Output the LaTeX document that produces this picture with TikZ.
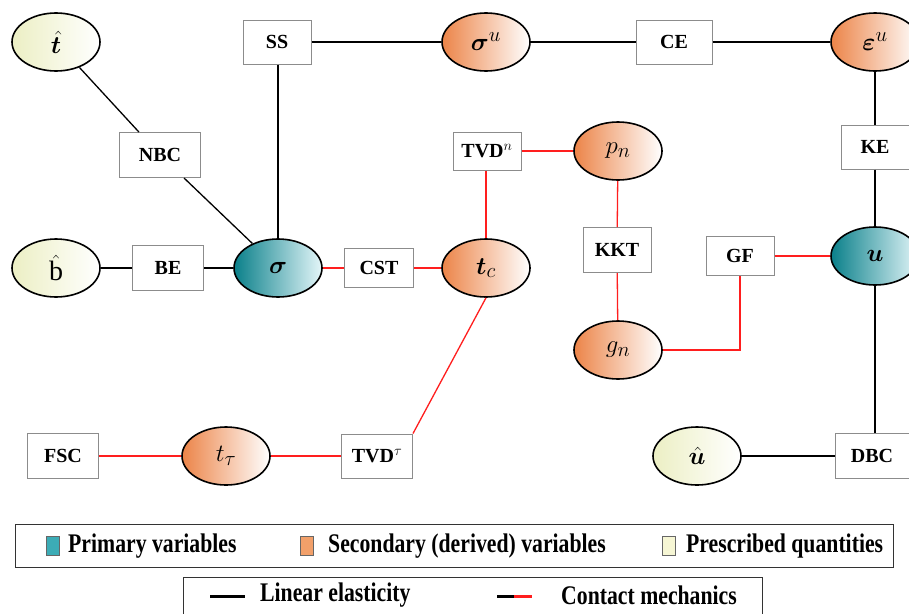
\documentclass[tikz,border=0pt]{standalone}
\usepackage{amsmath,bm}
\usepackage{fontspec}
\setmainfont{Liberation Serif}
\newfontfamily\tnr{Liberation Serif}
\usetikzlibrary{shapes.geometric}
\definecolor{orgL}{RGB}{236,132,72}
\definecolor{tealL}{RGB}{10,128,138}
\definecolor{tealR}{RGB}{228,246,249}
\definecolor{yelL}{RGB}{236,239,196}
\definecolor{legTeal}{RGB}{60,172,182}
\definecolor{legOrg}{RGB}{242,160,106}
\definecolor{legYel}{RGB}{246,246,212}
\definecolor{boxgray}{RGB}{140,140,140}
\definecolor{cmred}{RGB}{255,30,30}
\newcommand{\legstretch}[1]{\scalebox{0.97}[1.2]{#1}}
\tikzset{
  var/.style={ellipse, draw=black, line width=1.6pt, minimum width=88pt, minimum height=58pt, inner sep=0pt, font=\fontsize{28}{30}\selectfont},
  prim/.style={var, left color=tealL, right color=tealR},
  sec/.style={var, left color=orgL, right color=white},
  pres/.style={var, left color=yelL, right color=white},
  opbox/.style={rectangle, draw=boxgray, line width=1pt, fill=white, minimum height=44pt, minimum width=68pt, inner sep=0pt, font=\tnr\fontsize{20}{22}\selectfont\bfseries},
  leline/.style={draw=black, line width=1.3pt},
  cmline/.style={draw=cmred, line width=1.3pt},
  legtxt/.style={anchor=west, inner sep=0pt, font=\tnr\fontsize{22.4}{24}\selectfont\bfseries},
  legkey/.style={draw=black!60, line width=0.8pt, minimum width=13pt, minimum height=19pt, inner sep=0pt},
}
\begin{document}
\begin{tikzpicture}[x=1pt, y=-1pt]
\useasboundingbox (0,0) rectangle (909,613);
% nodes
\node[pres] (that) at (56,42) {$\hat{\bm t}$};
\node[opbox] (ss) at (277,42) {SS};
\node[sec] (sigu) at (486,42) {$\bm\sigma^{u}$};
\node[opbox, minimum width=76pt] (ce) at (674,42) {CE};
\node[sec] (epsu) at (875,42) {$\bm\varepsilon^{u}$};
\node[opbox, minimum width=81pt, minimum height=45pt] (nbc) at (160,155) {NBC};
\node[opbox, minimum height=38pt] (tvdn) at (487,151) {TVD$^{n}$};
\node[sec] (pn) at (618,151) {$p_n$};
\node[opbox] (ke) at (875,147) {KE};
\node[pres] (bhat) at (56,268) {$\hat{\mathrm b}$};
\node[opbox, minimum width=71pt, minimum height=45pt] (be) at (168,268) {BE};
\node[prim] (sig) at (278,268) {$\bm\sigma$};
\node[opbox, minimum width=69pt, minimum height=39pt] (cst) at (379,268) {CST};
\node[sec] (tc) at (486,268) {$\bm t_{c}$};
\node[opbox, minimum height=45pt] (kkt) at (617,250) {KKT};
\node[opbox, minimum height=39pt] (gf) at (740,256) {GF};
\node[prim] (u) at (875,256) {$\bm u$};
\node[sec] (gn) at (618,350) {$g_n$};
\node[opbox, minimum width=71pt, minimum height=45pt] (fsc) at (63,456) {FSC};
\node[sec] (ttau) at (226,456) {$t_\tau$};
\node[opbox, minimum width=71pt] (tvdt) at (377,456) {TVD$^{\tau}$};
\node[pres] (uhat) at (697,456) {$\hat{\bm u}$};
\node[opbox, minimum width=74pt, minimum height=45pt] (dbc) at (872,456) {DBC};
% linear elasticity connectors
\draw[leline] (that) -- (nbc);
\draw[leline] (nbc) -- (sig);
\draw[leline] (bhat) -- (be);
\draw[leline] (be) -- (sig);
\draw[leline] (ss.south -| sig.north) -- (sig.north);
\draw[leline] (ss) -- (sigu);
\draw[leline] (sigu) -- (ce);
\draw[leline] (ce) -- (epsu);
\draw[leline] (epsu) -- (ke);
\draw[leline] (ke) -- (u);
\draw[leline] (u.south) -- (u.south |- dbc.north);
\draw[leline] (uhat) -- (dbc);
% contact mechanics connectors
\draw[cmline] (sig) -- (cst);
\draw[cmline] (cst) -- (tc);
\draw[cmline] (tc.north) -- (tc.north |- tvdn.south);
\draw[cmline] (tvdn) -- (pn);
\draw[cmline] (pn) -- (kkt);
\draw[cmline] (kkt) -- (gn);
\draw[cmline] (gn.east) -| (gf.south);
\draw[cmline] (gf) -- (u);
\draw[cmline] (tc.south) -- (tvdt.north east);
\draw[cmline] (tvdt) -- (ttau);
\draw[cmline] (ttau) -- (fsc);
% legend 1
\draw[draw=black!80, line width=1pt] (15,524) rectangle (893,567);
\node[legkey, fill=legTeal] (k1) at (53,546) {};
\node[legtxt] (t1) at (68,546) {\legstretch{Primary variables}};
\node[legkey, fill=legOrg] (k2) at (307,546) {};
\node[legtxt] (t2) at (328,546) {\legstretch{Secondary (derived) variables}};
\node[legkey, fill=legYel] (k3) at (669,546) {};
\node[legtxt] (t3) at (686,546) {\legstretch{Prescribed quantities}};
% legend 2
\draw[draw=black!80, line width=1pt] (183,577) rectangle (762,625);
\draw[line width=3pt] (210,596) -- (245,596);
\node[legtxt] (t4) at (260,595) {\legstretch{Linear elasticity}};
\draw[line width=3pt] (497,596) -- (514,596);
\draw[line width=3pt, cmred] (514,596) -- (532,596);
\node[legtxt] (t5) at (561,595) {\legstretch{Contact mechanics}};
\end{tikzpicture}
\end{document}
